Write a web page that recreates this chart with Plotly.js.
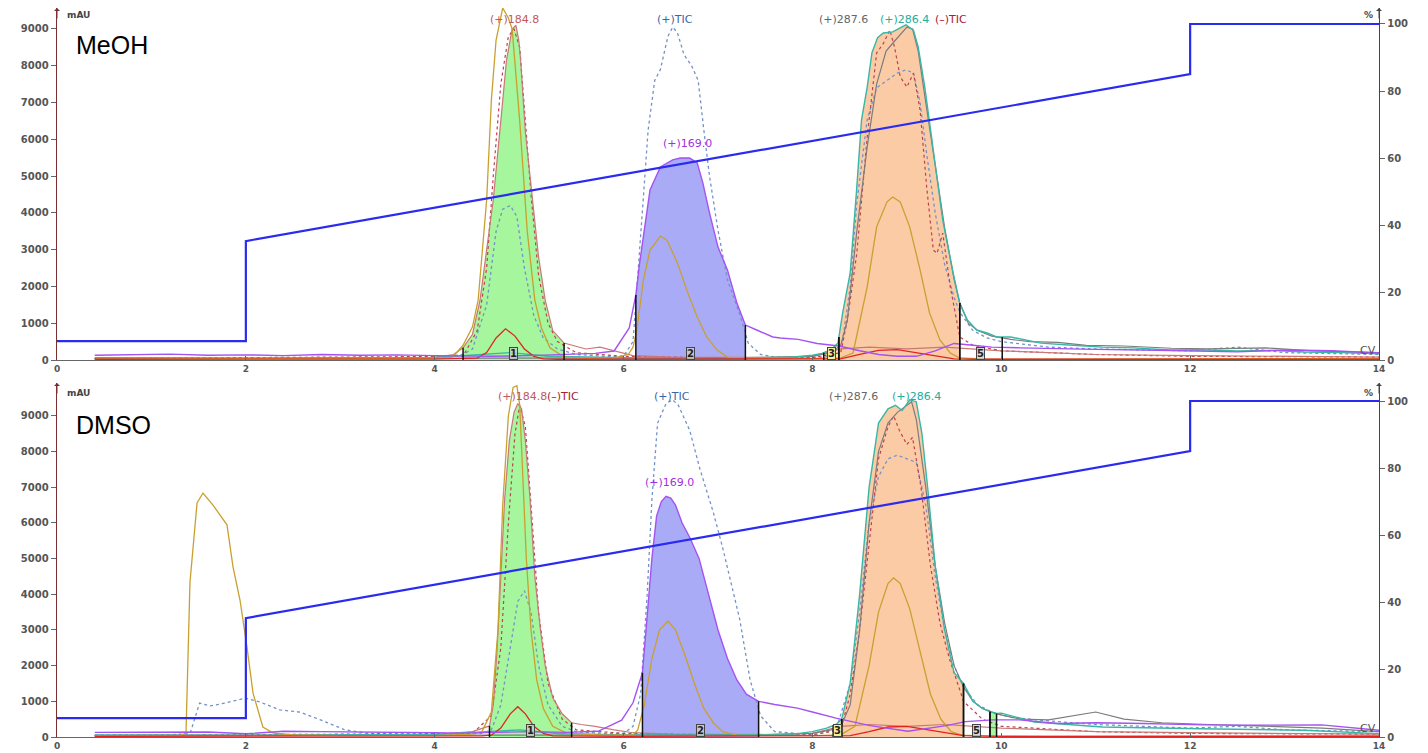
<!DOCTYPE html>
<html><head><meta charset="utf-8">
<script src="https://cdn.plot.ly/plotly-3.0.1.min.js"></script>
<style>html,body{margin:0;padding:0;background:#fff}#chart{width:1428px;height:753px}</style>
</head><body><div id="chart"></div>
<script>
// ---------- gradient (% B), same for both runs ----------
const gradT = [0, 2, 2, 12, 12, 14];
const gradP = [5.6, 5.6, 35.4, 85.1, 100, 100];

// ---------- MeOH run (top) ----------
const meohGoldT = [0.4,1.0,2.0,3.0,3.8,4.1,4.19,4.30,4.40,4.46,4.55,4.60,4.65,4.72,4.78,4.82,4.90,4.98,5.06,5.13,5.22,5.37,5.6,5.9,6.05,6.10,6.14,6.21,6.28,6.39,6.46,6.57,6.67,6.78,6.88,6.99,7.10,7.3,7.6,8.0,8.3,8.43,8.58,8.68,8.79,8.85,8.93,9.03,9.14,9.24,9.35,9.46,9.56,9.8,10.5,12,13,13.6,14];
const meohGoldY = [30,30,25,30,40,60,80,400,900,1630,4350,7070,8700,9570,9300,9000,6500,3500,1630,870,330,80,50,60,150,350,815,2175,2990,3370,3260,2640,1900,1170,625,270,80,50,40,40,60,190,1990,3620,4300,4430,4300,3620,2450,1280,544,190,54,30,20,20,20,40,40];
const meoh1848T = [0.4,1,2,3,4.0,4.2,4.30,4.40,4.48,4.55,4.62,4.70,4.76,4.82,4.86,4.89,4.91,4.96,5.04,5.10,5.17,5.25,5.37,5.45,5.6,5.75,5.9,6.1,6.5,7,7.5,8,8.3,8.6,9.0,9.4,9.7,10,10.5,11,12,13,14];
const meoh1848Y = [40,50,45,50,70,150,330,700,1630,3000,4350,6500,8150,9000,9100,8700,8150,6200,4350,2800,1630,800,460,400,300,350,250,120,80,80,70,100,300,350,300,350,300,250,200,150,120,100,80];
const meohTicT = [0.4,2,4.0,4.3,4.4,4.55,4.65,4.72,4.80,4.87,4.95,5.05,5.15,5.3,5.5,5.8,6.0,6.1,6.21,6.26,6.33,6.39,6.47,6.52,6.57,6.64,6.72,6.79,6.85,6.91,7.0,7.1,7.24,7.32,7.45,7.6,8.0,8.2,8.32,8.40,8.47,8.58,8.68,8.79,8.90,8.99,9.07,9.14,9.21,9.30,9.40,9.50,9.56,9.7,9.85,10.0,10.5,11,12,12.5,13,14];
const meohTicY = [60,50,60,150,300,1500,3500,4100,4200,3900,2500,1200,600,300,150,100,100,500,4430,6250,7600,7900,8800,9050,8900,8300,8000,7600,6250,5000,3530,2175,1170,460,150,80,60,100,540,1990,4270,6530,7400,7610,7800,7890,7800,7000,5600,4000,2600,1700,1300,800,600,500,350,300,250,350,200,150];
const meohNegTicT = [0.4,4.3,4.45,4.55,4.62,4.70,4.78,4.84,4.90,4.96,5.02,5.10,5.2,5.3,5.5,6,6.5,7,8,8.3,8.37,8.47,8.58,8.68,8.75,8.82,8.87,8.93,9.00,9.07,9.14,9.21,9.28,9.32,9.38,9.46,9.56,9.7,10,11,12,14];
const meohNegTicY = [40,100,800,2500,5000,7500,8800,9000,8500,6500,4500,2300,1000,500,200,100,80,60,60,200,1090,2900,6060,8350,8600,8970,8500,7700,7420,7800,6800,4700,2990,2900,3450,1990,625,400,250,150,100,80];
const meohRedT = [0.4,2,4.0,4.45,4.55,4.65,4.75,4.85,4.95,5.05,5.15,5.3,6,7,8,8.3,8.5,8.7,8.9,9.1,9.3,9.5,9.7,10,12,14];
const meohRedY = [20,20,25,50,200,600,850,650,300,100,30,20,20,20,20,30,150,260,280,200,100,30,20,20,20,20];
const meoh1690T = [0.4,0.8,1.2,1.6,2.0,2.4,2.8,3.2,3.6,4.0,4.3,4.6,5.0,5.4,5.7,5.90,6.06,6.13,6.17,6.28,6.39,6.52,6.60,6.70,6.78,6.84,6.91,7.00,7.10,7.20,7.29,7.41,7.58,7.66,7.85,8.05,8.28,8.5,8.7,8.9,9.1,9.3,9.5,9.7,9.9,10.2,10.6,11.0,11.5,12.0,12.5,13.0,13.5,14];
const meoh1690Y = [130,150,160,130,140,120,150,130,140,120,110,100,120,150,180,245,870,1770,2640,4620,5250,5440,5490,5490,5360,4810,4000,3070,2450,1550,950,816,625,600,560,450,380,250,150,100,100,250,450,400,350,330,300,290,270,250,220,270,250,190];
const meoh2864T = [0.4,2,4,4.5,4.8,5.2,6,7,7.5,7.8,8.0,8.1,8.2,8.27,8.32,8.40,8.47,8.52,8.58,8.63,8.69,8.75,8.85,8.93,8.99,9.07,9.12,9.19,9.28,9.38,9.49,9.56,9.64,9.74,9.85,9.95,10.10,10.25,10.42,10.71,11.07,11.4,11.78,12.1,12.5,12.9,13.21,13.6,14];
const meoh2864Y = [60,50,70,150,200,100,60,50,60,80,130,180,280,460,1280,2370,4700,6530,7420,8350,8760,8890,8920,9030,9110,8970,8510,7420,5630,3800,2370,1550,1090,815,735,625,625,544,460,408,350,330,270,280,245,260,218,200,170];
const meoh2876T = [0.4,2,4,6,7.5,8.0,8.2,8.3,8.37,8.47,8.58,8.68,8.78,8.88,8.95,9.00,9.06,9.12,9.2,9.3,9.4,9.5,9.56,9.65,9.75,9.9,10.1,10.3,10.6,10.9,11.3,11.8,12.2,12.8,13.3,14];
const meoh2876Y = [40,40,50,50,60,100,200,400,1090,3500,5800,7500,8400,8700,8900,9050,9000,8400,7000,5300,3600,2200,1550,1000,800,650,560,500,480,400,380,320,300,330,250,200];
const meohFracStart = [4.30, 6.13, 8.12, 8.28, 9.56];
const meohFracEnd   = [5.37, 7.29, 8.28, 9.56, 10.01];
const meohFracLabel = ['1', '2', '3', '', '5'];
const meohFracSource = ['s1848', 's1690', 's2864', 's2864', 's2864'];

// ---------- DMSO run (bottom) ----------
const dmsoGoldT = [0.4,1.0,1.30,1.366,1.408,1.483,1.546,1.652,1.80,1.864,1.938,2.012,2.076,2.18,2.29,2.5,3,4,4.4,4.5,4.6,4.67,4.72,4.78,4.83,4.87,4.90,4.93,4.97,5.02,5.08,5.15,5.25,5.4,5.8,6.1,6.15,6.22,6.30,6.38,6.47,6.55,6.65,6.75,6.85,6.95,7.05,7.2,7.6,8.0,8.3,8.45,8.6,8.7,8.8,8.86,8.93,9.03,9.14,9.25,9.36,9.47,9.58,9.8,10.5,12,13,14];
const dmsoGoldY = [30,30,40,112,4330,6560,6840,6500,5950,4770,3840,2520,1230,280,112,60,40,40,80,150,700,3000,6500,9000,9800,9850,9300,7500,5000,3000,1600,800,300,100,50,60,200,900,2200,3000,3250,3000,2300,1500,800,400,150,50,40,40,60,300,2000,3500,4300,4460,4300,3600,2400,1200,500,150,50,30,20,20,30,40];
const dmso1848T = [0.4,1,2,3,4.0,4.4,4.58,4.62,4.66,4.70,4.74,4.79,4.84,4.88,4.92,4.96,5.01,5.06,5.12,5.17,5.25,5.35,5.45,5.55,5.7,5.9,6.1,6.5,7,7.5,8,8.3,8.6,9.0,9.4,9.7,10,10.5,11,12,13,14];
const dmso1848Y = [40,50,45,50,70,150,310,900,2440,4500,6650,8300,9100,9350,9200,8300,6650,4500,3000,2000,1100,650,400,350,300,200,120,80,80,70,100,300,350,300,350,300,250,200,150,120,100,80];
const dmsoTicT = [0.4,1.2,1.41,1.51,1.62,1.78,1.99,2.15,2.36,2.57,2.79,3.05,3.31,3.6,4.0,4.5,4.6,4.7,4.8,4.88,4.95,5.02,5.1,5.2,5.35,5.5,5.8,6.0,6.1,6.18,6.25,6.30,6.36,6.45,6.52,6.58,6.70,6.81,6.95,7.05,7.23,7.34,7.45,7.6,8.0,8.25,8.4,8.5,8.6,8.7,8.8,8.9,9.0,9.1,9.2,9.3,9.4,9.5,9.6,9.75,9.9,10.1,10.5,11,11.5,12,12.5,13,14];
const dmsoTicY = [60,60,100,950,870,950,1090,980,760,700,480,200,100,70,60,100,200,900,2500,3800,4100,3500,2000,900,300,150,100,100,300,1200,4000,6650,8800,9350,9450,9300,8600,7500,6300,5300,3300,1600,600,150,60,200,1500,3500,6000,7300,7800,7900,7800,7700,6500,4500,3000,2000,1400,900,700,550,450,350,300,250,300,200,150];
const dmsoNegTicT = [0.4,4.4,4.6,4.7,4.78,4.85,4.9,4.96,5.02,5.1,5.2,5.35,5.5,6,7,8,8.3,8.4,8.5,8.6,8.7,8.8,8.86,8.92,9.0,9.06,9.15,9.25,9.35,9.45,9.6,9.8,10,11,12,14];
const dmsoNegTicY = [40,100,600,2500,6000,8500,9300,8700,6500,3500,1500,500,200,100,60,60,200,1200,3000,5500,7800,8700,9000,8600,8200,8400,7000,4800,3200,2200,1000,500,300,150,100,80];
const dmsoRedT = [0.4,2,4.0,4.5,4.6,4.7,4.8,4.88,4.96,5.05,5.15,5.25,6,7,8,8.4,8.6,8.8,9.0,9.2,9.4,9.6,10,12,14];
const dmsoRedY = [20,20,25,30,50,250,650,850,650,300,100,30,20,20,20,40,150,280,300,220,120,40,20,20,20];
const dmso1690T = [0.4,0.8,1.2,1.6,2.0,2.4,2.8,3.2,3.6,4.0,4.3,4.6,5.0,5.4,5.73,5.98,6.10,6.20,6.25,6.30,6.35,6.40,6.45,6.50,6.55,6.62,6.70,6.80,6.90,7.00,7.10,7.20,7.30,7.43,7.60,7.84,8.0,8.25,8.61,9.01,9.42,9.62,9.91,10.19,10.6,11.0,11.5,12.14,12.7,13.39,14];
const dmso1690Y = [130,140,130,140,90,160,150,140,150,120,110,130,150,130,160,470,960,1800,3500,5000,6200,6600,6750,6700,6500,6000,5600,5000,4000,3000,2200,1600,1200,1000,910,810,700,530,320,160,320,430,480,480,380,400,380,340,330,340,190];
const dmso2864T = [0.4,2,4,4.5,4.9,5.3,6,7,7.5,7.8,8.0,8.15,8.25,8.31,8.40,8.50,8.60,8.70,8.80,8.88,8.95,9.03,9.10,9.16,9.22,9.30,9.40,9.50,9.60,9.70,9.80,9.88,9.95,10.0,10.35,11.07,12.1,13.2,14];
const dmso2864Y = [60,50,70,150,200,100,60,50,60,80,150,250,350,500,1500,4000,7000,8800,9200,9300,9150,9450,9400,8500,7000,4800,3000,1800,1500,1000,800,710,660,670,420,280,230,190,95];
const dmso2876T = [0.4,2,4,6,7.5,8.0,8.2,8.31,8.4,8.5,8.6,8.7,8.8,8.9,9.0,9.05,9.1,9.2,9.3,9.4,9.5,9.6,9.7,9.8,9.95,10.2,10.5,10.8,11.0,11.3,11.7,12.2,12.8,13.4,14];
const dmso2876Y = [40,40,50,50,60,100,200,350,900,3000,6000,8000,8800,9100,9300,9400,8900,7000,4800,3200,2000,1400,1000,800,650,500,480,600,700,500,400,350,300,250,150];
const dmsoFracStart = [4.58, 6.20, 8.22, 8.31, 9.60, 9.88];
const dmsoFracEnd   = [5.45, 7.43, 8.31, 9.60, 9.88, 9.95];
const dmsoFracLabel = ['1', '2', '3', '', '5', ''];
const dmsoFracSource = ['s1848', 's1690', 's2864', 's2864', 's2864', 's2864'];

// ---------- peak label texts ----------
const meohPeakLabels = [
  {text:'(+)184.8', t:4.85, key:'c1848'}, {text:'(+)TIC', t:6.54, key:'cTic'},
  {text:'(+)287.6', t:8.33, key:'c2876'}, {text:'(+)286.4', t:8.98, key:'c2864'},
  {text:'(\u2013)TIC', t:9.47, key:'cNeg'}];
const dmsoPeakLabels = [
  {text:'(+)184.8', t:4.93, key:'c1848'}, {text:'(\u2013)TIC', t:5.36, key:'cNeg'},
  {text:'(+)TIC', t:6.51, key:'cTic'}, {text:'(+)287.6', t:8.44, key:'c2876'},
  {text:'(+)286.4', t:9.10, key:'c2864'}];
const meoh169Label = {text:'(+)169.0', t:6.68, v:5650};
const dmso169Label = {text:'(+)169.0', t:6.49, v:6900};

// ---------- styling ----------
const C = {gold:'#c9a030', s1848:'#c97878', tic:'#7492c8', neg:'#c0404e', red:'#e52222',
  s1690:'#a452f2', s2864:'#38b6a6', s2876:'#7c7c7c', grad:'#2a2af0',
  c1848:'#c05a5a', cTic:'#3a66a6', c2876:'#666666', c2864:'#22ad9c', cNeg:'#a82034', c169:'#a030e0'};
const fracFill = ['rgba(160,245,152,0.95)','rgba(164,166,246,0.95)','rgba(244,238,150,0.95)','rgba(250,200,160,0.95)',null,'rgba(160,245,152,0.95)'];
const FONT = 'DejaVu Sans';
const xTickFont = {family: FONT, size: 9, color: '#555', weight: 'bold'};
const yTickFont = {family: FONT, size: 10, color: '#555', weight: 'bold'};

function interp(t, y, x) {
  for (let i = 0; i < t.length - 1; i++) {
    if (x >= t[i] && x <= t[i+1]) { const f = (x - t[i]) / (t[i+1] - t[i]); return y[i] + f * (y[i+1] - y[i]); }
  }
  return 0;
}
function segment(t, y, a, b) {
  const xs = [a], ys = [interp(t, y, a)];
  for (let i = 0; i < t.length; i++) if (t[i] > a && t[i] < b) { xs.push(t[i]); ys.push(y[i]); }
  xs.push(b); ys.push(interp(t, y, b));
  return {xs, ys};
}

const traces = [];
const annotations = [];

function buildPanel(P) {
  const S = P.series;
  P.fracStart.forEach((a, i) => {
    const b = P.fracEnd[i];
    const src = S[P.fracSource[i]];
    const col = fracFill[i];
    if (col) {
      const sg = segment(src[0], src[1], a, b);
      traces.push({x: sg.xs, y: sg.ys, xaxis: P.xa, yaxis: P.ya, type: 'scatter', mode: 'lines',
        fill: 'tozeroy', fillcolor: col, line: {width: 0, shape: 'linear'}, hoverinfo: 'skip'});
    }
  });
  const line = (k, color, dash, w) => traces.push({x: S[k][0], y: S[k][1], xaxis: P.xa, yaxis: P.ya,
    type: 'scatter', mode: 'lines', line: {color: color, width: w || 1.2, dash: dash || 'solid', shape: 'linear'}, hoverinfo: 'skip'});
  line('tic', C.tic, 'dot', 1.3);
  line('neg', C.neg, 'dot', 1.2);
  line('s1848', C.s1848, 'solid', 1.2);
  line('s2876', C.s2876, 'solid', 1.2);
  line('s2864', C.s2864, 'solid', 1.4);
  line('gold', C.gold, 'solid', 1.3);
  line('red', C.red, 'solid', 1.3);
  line('s1690', C.s1690, 'solid', 1.4);
  const vx = [], vy = [];
  P.fracStart.forEach((a, i) => {
    const b = P.fracEnd[i];
    const src = S[P.fracSource[i]];
    [a, b].forEach(x => { vx.push(x, x, null); vy.push(0, interp(src[0], src[1], x), null); });
  });
  traces.push({x: vx, y: vy, xaxis: P.xa, yaxis: P.ya, type: 'scatter', mode: 'lines',
    line: {color: '#111', width: 1.5}, hoverinfo: 'skip'});
  traces.push({x: gradT, y: gradP, xaxis: P.xa, yaxis: P.ya2, type: 'scatter', mode: 'lines',
    line: {color: C.grad, width: 2.2}, hoverinfo: 'skip'});
  P.fracStart.forEach((a, i) => {
    if (!P.fracLabel[i]) return;
    annotations.push({x: (a + P.fracEnd[i]) / 2, y: 170, xref: P.xa, yref: P.ya, text: P.fracLabel[i],
      showarrow: false, font: {family: FONT, size: 10, color: '#222', weight: 'bold'},
      bgcolor: i === 2 ? '#f4ee96' : 'rgba(205,205,205,0.75)', bordercolor: '#444', borderwidth: 1, borderpad: 0});
  });
  P.peakLabels.forEach(L => annotations.push({x: L.t, y: P.labelY, xref: P.xa, yref: 'paper', yanchor: 'middle', text: L.text,
    showarrow: false, font: {family: FONT, size: 11, color: C[L.key]}}));
  annotations.push({x: P.l169.t, y: P.l169.v, xref: P.xa, yref: P.ya, text: P.l169.text, showarrow: false,
    yanchor: 'bottom', font: {family: FONT, size: 11, color: C.c169}});
  annotations.push({x: 13.88, y: 250, xref: P.xa, yref: P.ya, text: 'CV', showarrow: false,
    font: {family: FONT, size: 11, color: '#555'}});
  annotations.push({x: 74/1428, y: P.nameY, xref: 'paper', yref: 'paper', xanchor: 'left', yanchor: 'middle',
    text: P.name, showarrow: false, font: {family: 'Liberation Sans', size: 25, color: '#000'}});
  annotations.push({x: 65/1428, y: P.unitY, xref: 'paper', yref: 'paper', xanchor: 'left', yanchor: 'middle',
    text: 'mAU', showarrow: false, font: {family: FONT, size: 9, color: '#444', weight: 'bold'}});
  annotations.push({x: 1375/1428, y: P.unitY, xref: 'paper', yref: 'paper', xanchor: 'right', yanchor: 'middle',
    text: '%', showarrow: false, font: {family: FONT, size: 9, color: '#444', weight: 'bold'}});
  annotations.push({x: 0, y: P.yMax, xref: P.xa, yref: P.ya, ax: 0, ay: 12, text: '', showarrow: true,
    arrowhead: 1, arrowsize: 1, arrowwidth: 1, arrowcolor: '#7a3030'});
  annotations.push({x: 14, y: P.pMax, xref: P.xa, yref: P.ya2, ax: 0, ay: 12, text: '', showarrow: true,
    arrowhead: 1, arrowsize: 1, arrowwidth: 1, arrowcolor: '#444'});
}

buildPanel({xa: 'x', ya: 'y', ya2: 'y2', name: 'MeOH', nameY: (753-45)/753, unitY: (753-15)/753, labelY: (753-20)/753,
  yMax: 9570, pMax: 104.76,
  series: {gold: [meohGoldT, meohGoldY], s1848: [meoh1848T, meoh1848Y], tic: [meohTicT, meohTicY],
    neg: [meohNegTicT, meohNegTicY], red: [meohRedT, meohRedY], s1690: [meoh1690T, meoh1690Y],
    s2864: [meoh2864T, meoh2864Y], s2876: [meoh2876T, meoh2876Y]},
  fracStart: meohFracStart, fracEnd: meohFracEnd, fracLabel: meohFracLabel, fracSource: meohFracSource,
  peakLabels: meohPeakLabels, l169: meoh169Label});
buildPanel({xa: 'x2', ya: 'y3', ya2: 'y4', name: 'DMSO', nameY: (753-425)/753, unitY: (753-393)/753, labelY: (753-396)/753,
  yMax: 9924, pMax: 105.36,
  series: {gold: [dmsoGoldT, dmsoGoldY], s1848: [dmso1848T, dmso1848Y], tic: [dmsoTicT, dmsoTicY],
    neg: [dmsoNegTicT, dmsoNegTicY], red: [dmsoRedT, dmsoRedY], s1690: [dmso1690T, dmso1690Y],
    s2864: [dmso2864T, dmso2864Y], s2876: [dmso2876T, dmso2876Y]},
  fracStart: dmsoFracStart, fracEnd: dmsoFracEnd, fracLabel: dmsoFracLabel, fracSource: dmsoFracSource,
  peakLabels: dmsoPeakLabels, l169: dmso169Label});

const XD = [57/1428, 1379/1428];
const xCommon = {domain: XD, range: [0, 14], tickvals: [0,2,4,6,8,10,12,14], showline: true, linecolor: '#666', linewidth: 1.2,
  ticks: 'inside', ticklen: 4, tickcolor: '#666', tickfont: xTickFont, showgrid: false, zeroline: false, fixedrange: true};
const yLeft = {tickvals: [0,1000,2000,3000,4000,5000,6000,7000,8000,9000], showline: true, linecolor: '#7a3030', linewidth: 1.3,
  ticks: 'outside', ticklen: 5, tickcolor: '#666', tickfont: yTickFont, showgrid: false, zeroline: false, fixedrange: true};
const yRight = {tickvals: [0,20,40,60,80,100], side: 'right', showline: true, linecolor: '#444', linewidth: 1.2,
  ticks: 'outside', ticklen: 5, tickcolor: '#666', tickfont: yTickFont, showgrid: false, zeroline: false, fixedrange: true};

const layout = {
  width: 1428, height: 753, margin: {l: 0, r: 0, t: 0, b: 0}, paper_bgcolor: '#fff', plot_bgcolor: '#fff',
  showlegend: false,
  xaxis: Object.assign({}, xCommon, {anchor: 'y'}),
  xaxis2: Object.assign({}, xCommon, {anchor: 'y3'}),
  yaxis: Object.assign({}, yLeft, {domain: [(753-360)/753, (753-8)/753], range: [0, 9570], anchor: 'x'}),
  yaxis2: Object.assign({}, yRight, {overlaying: 'y', range: [0, 104.76], anchor: 'x'}),
  yaxis3: Object.assign({}, yLeft, {domain: [(753-737)/753, (753-383)/753], range: [0, 9924], anchor: 'x2'}),
  yaxis4: Object.assign({}, yRight, {overlaying: 'y3', range: [0, 105.36], anchor: 'x2'}),
  annotations: annotations
};
Plotly.newPlot('chart', traces, layout, {displayModeBar: false, staticPlot: true});
</script></body></html>
